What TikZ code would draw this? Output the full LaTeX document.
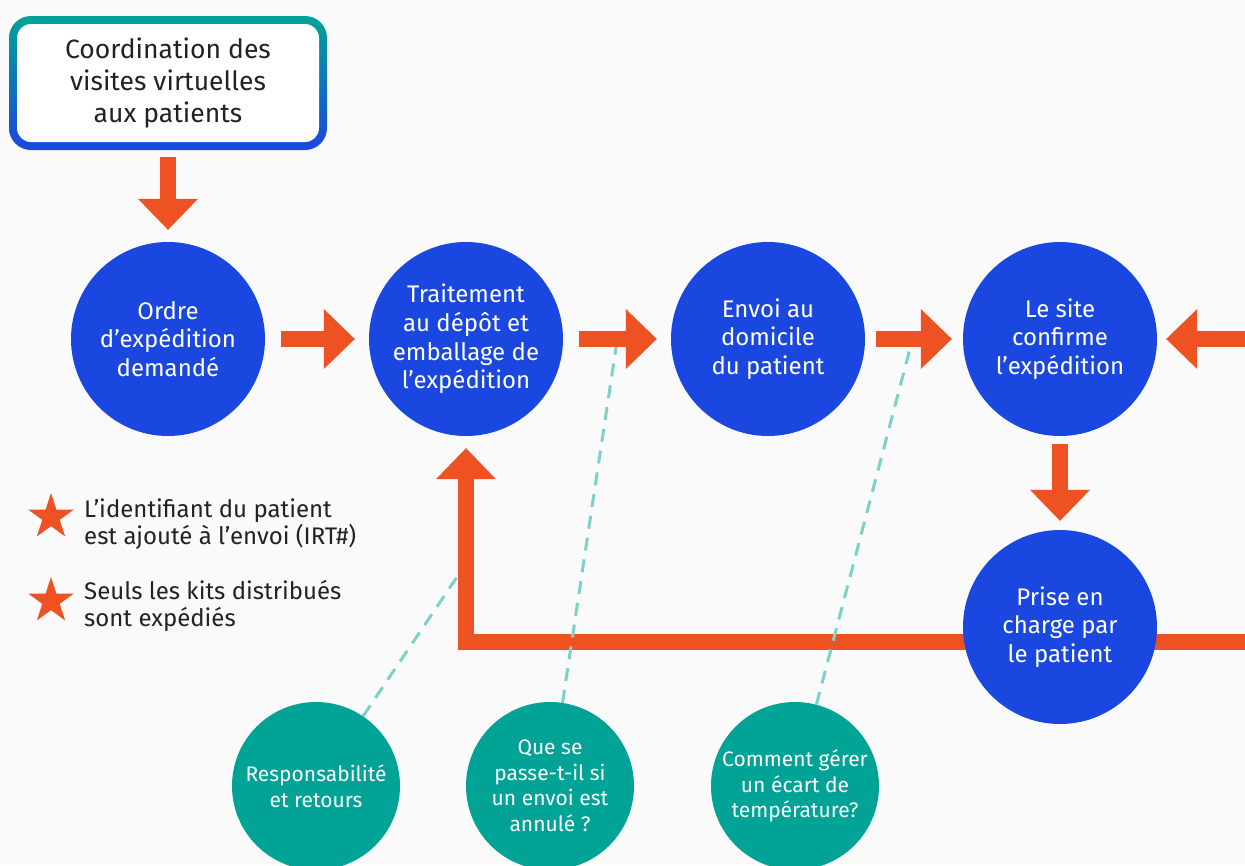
\documentclass[tikz,border=0pt]{standalone}
\usepackage{fontspec}
\setmainfont{Fira Sans}
\usetikzlibrary{arrows.meta,positioning,shapes.geometric}
\definecolor{PageGray}{RGB}{250,250,250}
\definecolor{Ink}{RGB}{34,34,34}
\definecolor{RoyalBlue}{RGB}{26,71,224}
\definecolor{Orange}{RGB}{238,81,34}
\definecolor{Teal}{RGB}{0,163,150}
\definecolor{SoftTeal}{RGB}{125,209,203}
\tikzset{
  >=Latex,
  stage/.style={circle,fill=RoyalBlue,text=white,align=center,minimum size=194pt,inner sep=0pt,font=\fontsize{24}{28.7}\selectfont},
  question/.style={circle,fill=Teal,text=white,align=center,minimum size=168pt,inner sep=0pt,font=\fontsize{21}{25.5}\selectfont},
  topbox/.style={rounded corners=22pt,top color=Teal,bottom color=RoyalBlue,minimum width=318pt,minimum height=134pt,align=center,text=Ink,font=\fontsize{26.5}{32}\selectfont,
    path picture={\fill[white,rounded corners=14pt] ([shift={(8pt,-8pt)}]path picture bounding box.north west) rectangle ([shift={(-8pt,8pt)}]path picture bounding box.south east);}},
  fat/.style={draw=Orange,line width=16pt,-{Triangle[length=31pt,width=60pt,line width=0pt]}},
  link/.style={draw=SoftTeal,line width=3pt,dash pattern=on 13pt off 9pt},
  bullet/.style={star,star points=5,star point ratio=2.618,fill=Orange,minimum size=48pt,inner sep=0pt},
  legend/.style={anchor=west,align=left,inner sep=0pt,text=Ink,font=\fontsize{24}{27.5}\selectfont}
}
\begin{document}
\begin{tikzpicture}[x=1pt,y=-1pt]
  \fill[PageGray] (0,0) rectangle (1245,865);
  \useasboundingbox (0,0) rectangle (1245,865);
  % main stages
  \node[topbox] (coord) at (168,83) {Coordination des\\visites virtuelles\\aux patients};
  \node[stage] (c1) at (168,339) {Ordre\\d’expédition\\demandé};
  \node[stage] (c2) at (466,339) {Traitement\\au dépôt et\\emballage de\\l’expédition};
  \node[stage] (c3) at (768,339) {Envoi au\\domicile\\du patient};
  \node[stage] (c4) at (1060,339) {Le site\\confirme\\l’expédition};
  \coordinate (inR) at (1250,339);
  \coordinate (loopR) at (1250,642);
  % questions
  \node[question] (q1) at (316,786) {Responsabilité\\et retours};
  \node[question] (q2) at (550,786) {Que se\\passe-t-il si\\un envoi est\\annulé ?};
  \node[question] (q3) at (795,786) {Comment gérer\\un écart de\\température?};
  \coordinate (j1) at (457,577);
  \coordinate (j2) at (617,341);
  \coordinate (j3) at (912,341);
  % return loop
  \draw[fat,shorten >=12pt] (loopR) -| (c2);
  \draw[link] (q1) -- (j1);
  \draw[link] (q2) -- (j2);
  \draw[link] (q3) -- (j3);
  \draw[fat,shorten <=7pt,shorten >=12pt] (coord) -- (c1);
  \draw[fat,shorten <=16pt,shorten >=14pt] (c1) -- (c2);
  \draw[fat,shorten <=16pt,shorten >=14pt] (c2) -- (c3);
  \draw[fat,shorten <=11pt,shorten >=11pt] (c3) -- (c4);
  \draw[fat,shorten >=9pt] (inR) -- (c4);
  \node[stage] (c5) at (1060,627) {Prise en\\charge par\\le patient};
  \draw[fat,shorten <=8pt,shorten >=9pt] (c4) -- (c5);
  % legend
  \node[bullet] (s1) at (51,517) {};
  \node[bullet] (s2) at (51,601) {};
  \node[legend] (t1) at (84,524) {L’identifiant du patient\\est ajouté à l’envoi (IRT\#)};
  \node[legend] (t2) at (84,606) {Seuls les kits distribués\\sont expédiés};
\end{tikzpicture}
\end{document}
